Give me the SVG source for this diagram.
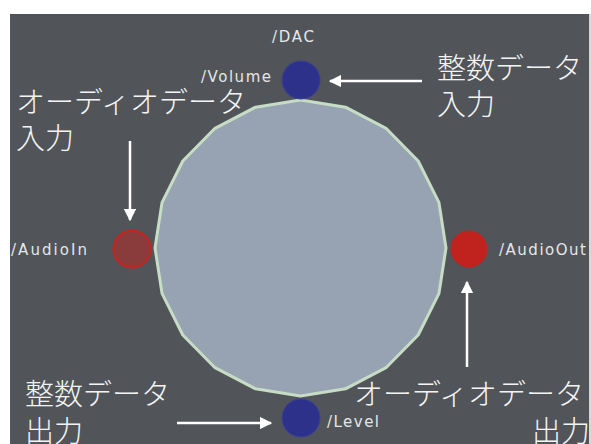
<svg xmlns="http://www.w3.org/2000/svg" width="591" height="444" viewBox="0 0 591 444">
<style>
.lbl{font-family:"DejaVu Sans","Liberation Sans",sans-serif;font-size:15px;fill:#e4e6e8}
.jp{font-family:"Noto Sans CJK JP","Noto Sans",sans-serif;font-size:29px;fill:#f4f4f4;font-weight:300}
.arr{stroke:#ffffff;stroke-width:2.5;fill:none}
.blue{fill:#2e3189;stroke:#3a3f9c;stroke-width:1}
</style>
<defs>
<marker id="ah" viewBox="0 0 10 10" refX="9" refY="5" markerWidth="5" markerHeight="5" orient="auto" markerUnits="strokeWidth">
<path d="M0,0 L10,5 L0,10 z" fill="#ffffff"/>
</marker>
</defs>
<rect x="0" y="0" width="591" height="444" fill="#ffffff"/>
<rect x="10" y="14" width="580" height="430" fill="#515459"/>
<rect x="589" y="14" width="2" height="430" fill="#d8d8d8"/>
<g id="dac">
<polygon points="300.5,100 345.5,107.2 386,128.3 418.2,161 438.9,202.3 446,248 438.9,293.7 418.2,335 386,367.7 345.5,388.8 300.5,396 255.5,388.8 215,367.7 182.8,335 162.1,293.7 155,248 162.1,202.3 182.8,161 215,128.3 255.5,107.2" fill="#97a3b2" stroke="#c6dcc4" stroke-width="3" stroke-linejoin="round"/>
<text class="lbl" x="272" y="42" textLength="42">/DAC</text>
</g>
<g id="volume">
<circle class="blue" cx="301" cy="80" r="19"/>
<text class="lbl" x="201" y="82" textLength="70">/Volume</text>
</g>
<g id="audioin">
<circle cx="132" cy="249" r="18.5" fill="#8a3b3b" stroke="#c8231f" stroke-width="2"/>
<text class="lbl" x="11" y="255" textLength="76">/AudioIn</text>
</g>
<g id="audioout">
<circle cx="469" cy="249" r="18.5" fill="#c0221e"/>
<text class="lbl" x="499" y="255" textLength="87">/AudioOut</text>
</g>
<g id="level">
<circle class="blue" cx="301" cy="418" r="19"/>
<text class="lbl" x="327" y="427" textLength="52">/Level</text>
</g>
<g id="note-int-in">
<text class="jp" x="437" y="79">整数データ</text>
<text class="jp" x="437" y="115">入力</text>
</g>
<g id="note-audio-in">
<text class="jp" x="16" y="113">オーディオデータ</text>
<text class="jp" x="16" y="149">入力</text>
</g>
<g id="note-int-out">
<text class="jp" x="25" y="405">整数データ</text>
<text class="jp" x="25" y="442">出力</text>
</g>
<g id="note-audio-out">
<text class="jp" x="354" y="405">オーディオデータ</text>
<text class="jp" x="532" y="442">出力</text>
</g>
<g id="connectors">
<line class="arr" x1="422" y1="81" x2="330" y2="81" marker-end="url(#ah)"/>
<line class="arr" x1="130" y1="141" x2="130" y2="220" marker-end="url(#ah)"/>
<line class="arr" x1="467" y1="367" x2="467" y2="282" marker-end="url(#ah)"/>
<line class="arr" x1="177" y1="423" x2="271" y2="423" marker-end="url(#ah)"/>
</g>
</svg>
